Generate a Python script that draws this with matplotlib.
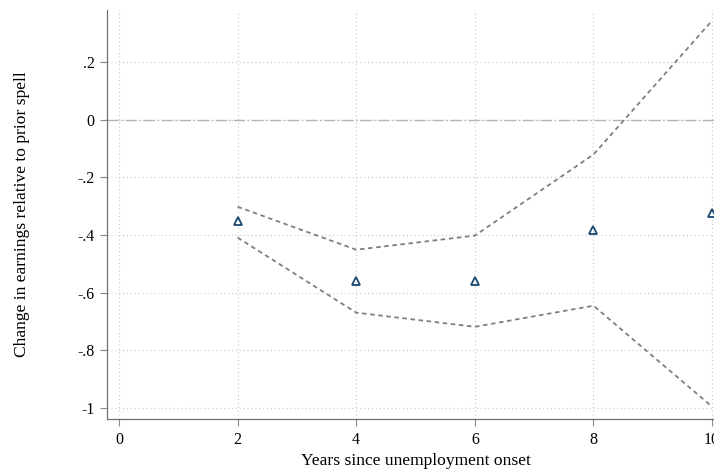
import matplotlib
matplotlib.use("Agg")
import matplotlib.pyplot as plt

# years since unemployment onset and point estimates
years = [2, 4, 6, 8, 10]
est = [-0.352, -0.560, -0.560, -0.382, -0.324]
ci_hi = [-0.302, -0.451, -0.402, -0.121, 0.343]
ci_lo = [-0.409, -0.669, -0.718, -0.645, -0.995]

xticks = [0, 2, 4, 6, 8, 10]
yticks = [0.2, 0, -0.2, -0.4, -0.6, -0.8, -1]
ylabels = ['.2', '0', '-.2', '-.4', '-.6', '-.8', '-1']

plt.rcParams['font.family'] = ['Liberation Serif', 'DejaVu Serif']

fig = plt.figure(figsize=(7.14, 4.72), dpi=100)
ax = fig.add_axes([0.150, 0.112, 0.864, 0.867])

ax.set_xlim(-0.2, 10.2)
ax.set_ylim(-1.038, 0.38)

ax.grid(True, linestyle=(0, (1, 2.5)), color='#c8c8c8', linewidth=0.8)
ax.set_axisbelow(True)

ax.axhline(0, color='#b4b4b4', linewidth=1.0, dashes=(8, 2, 1, 2), zorder=1)

ax.plot(years, ci_hi, color='#7f7f7f', linewidth=1.3, dashes=(2.5, 2), zorder=2)
ax.plot(years, ci_lo, color='#7f7f7f', linewidth=1.3, dashes=(2.5, 2), zorder=2)
ax.plot(years, est, linestyle='none', marker='^', markersize=5.5,
        markerfacecolor='none', markeredgecolor='#1a476f', markeredgewidth=1.3, zorder=3)

ax.set_xticks(xticks)
ax.set_xticklabels([str(v) for v in xticks])
ax.set_yticks(yticks)
ax.set_yticklabels(ylabels)
ax.tick_params(axis='both', direction='out', length=5, width=0.8, color='#8a8a8a',
               labelsize=11.5, pad=4)

for s in ['top', 'right']:
    ax.spines[s].set_visible(False)
for s in ['left', 'bottom']:
    ax.spines[s].set_color('#707070')
    ax.spines[s].set_linewidth(0.9)

ax.set_xlabel('Years since unemployment onset', fontsize=12.6, labelpad=4)
ax.set_ylabel('Change in earnings relative to prior spell', fontsize=12.6, labelpad=34)

fig.savefig('out.png', dpi=100)
